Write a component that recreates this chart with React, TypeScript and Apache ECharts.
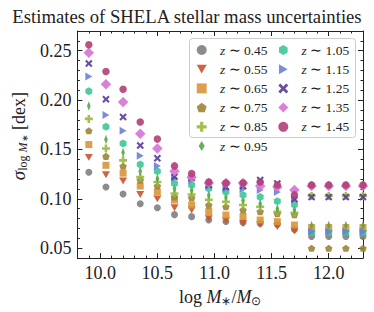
import React, { useEffect, useRef } from 'react';
import * as echarts from 'echarts';

// log stellar mass bin centres
const massBins = [9.9, 10.05, 10.2, 10.35, 10.5, 10.65, 10.8, 10.95, 11.1, 11.25, 11.4, 11.55, 11.7, 11.85, 12.0, 12.15, 12.3];

const zLabels = ['0.45', '0.55', '0.65', '0.75', '0.85', '0.95', '1.05', '1.15', '1.25', '1.35', '1.45'];

const sigmaZ045 = [0.127, 0.112, 0.105, 0.095, 0.091, 0.084, 0.082, 0.0785, 0.077, 0.076, 0.075, 0.074, 0.069, 0.062, 0.062, 0.062, 0.062];
const sigmaZ055 = [0.142, 0.1245, 0.118, 0.1045, 0.100, 0.091, 0.0887, 0.080, 0.078, 0.075, 0.074, 0.072, 0.0675, 0.065, 0.065, 0.065, 0.065];
const sigmaZ065 = [0.155, 0.134, 0.126, 0.113, 0.107, 0.0987, 0.0937, 0.087, 0.0836, 0.082, 0.0786, 0.0769, 0.0735, 0.071, 0.071, 0.071, 0.071];
const sigmaZ075 = [0.169, 0.143, 0.133, 0.119, 0.113, 0.102, 0.101, 0.0937, 0.092, 0.0886, 0.087, 0.085, 0.084, 0.050, 0.050, 0.050, 0.050];
const sigmaZ085 = [0.181, 0.151, 0.139, 0.122, 0.117, 0.1055, 0.1045, 0.099, 0.097, 0.0937, 0.092, 0.087, 0.086, 0.103, 0.103, 0.103, 0.103];
const sigmaZ095 = [0.194, 0.160, 0.147, 0.128, 0.1206, 0.1105, 0.109, 0.104, 0.102, 0.0985, 0.095, 0.090, 0.089, 0.073, 0.073, 0.073, 0.073];
const sigmaZ105 = [0.209, 0.173, 0.156, 0.1347, 0.128, 0.1156, 0.114, 0.1105, 0.107, 0.104, 0.102, 0.0977, 0.094, 0.066, 0.066, 0.066, 0.066];
const sigmaZ115 = [0.224, 0.185, 0.169, 0.1437, 0.1334, 0.1209, 0.119, 0.113, 0.1105, 0.110, 0.109, 0.107, 0.100, 0.067, 0.067, 0.067, 0.067];
const sigmaZ125 = [0.237, 0.201, 0.183, 0.154, 0.141, 0.1225, 0.121, 0.114, 0.112, 0.113, 0.119, 0.1155, 0.0997, 0.102, 0.102, 0.102, 0.102];
const sigmaZ135 = [0.248, 0.216, 0.198, 0.166, 0.151, 0.128, 0.122, 0.116, 0.116, 0.116, 0.113, 0.112, 0.109, 0.113, 0.113, 0.113, 0.113];
const sigmaZ145 = [0.256, 0.229, 0.211, 0.1778, 0.1605, 0.1334, 0.1256, 0.117, 0.116, 0.116, 0.117, 0.114, 0.104, 0.114, 0.114, 0.114, 0.114];

const allSigma = [sigmaZ045, sigmaZ055, sigmaZ065, sigmaZ075, sigmaZ085, sigmaZ095, sigmaZ105, sigmaZ115, sigmaZ125, sigmaZ135, sigmaZ145];

const xMajorTicks = [10.0, 10.5, 11.0, 11.5, 12.0];
const yMajorTicks = [0.05, 0.10, 0.15, 0.20, 0.25];

const colors = ['#7f7f7f', '#c9532f', '#d8963a', '#9c8538', '#9ab83a', '#55a74a', '#3ec697', '#6b7fdd', '#5a3b98', '#d473d2', '#b23f77'];

const symbols = [
  'circle',
  'path://M0,0L10,0L5,8.66Z',
  'rect',
  'path://M5,0L9.76,3.45L7.94,9.05L2.06,9.05L0.24,3.45Z',
  'path://M3.4,0H6.6V3.4H10V6.6H6.6V10H3.4V6.6H0V3.4H3.4Z',
  'path://M3,0L6,5L3,10L0,5Z',
  'path://M5,0L9.33,2.5L9.33,7.5L5,10L0.67,7.5L0.67,2.5Z',
  'path://M0,0L8.66,5L0,10Z',
  'path://M2,0L5,3L8,0L10,2L7,5L10,8L8,10L5,7L2,10L0,8L3,5L0,2Z',
  'diamond',
  'circle',
];
const symbolSizes: any[] = [7, 8, 7, 7.5, 8, [6, 9.5], 8, 8, 7.5, 10.5, 7.5];

const FONT = 'Liberation Serif';
const AX = '#222';

export default function App() {
  const ref = useRef<HTMLDivElement>(null);
  useEffect(() => {
    const chart = echarts.init(ref.current!, null, { renderer: 'svg' });
    const grid = { left: 74, top: 31, width: 289, height: 228 };
    const xMin = 9.8, xMax = 12.3, yMin = 0.04, yMax = 0.27;

    const majorX = (pos: string, labels: boolean, extra: any = {}) => ({
      type: 'value', position: pos, min: xMin, max: xMax,
      axisLine: { show: true, onZero: false, lineStyle: { color: AX, width: 1 } },
      axisTick: { show: true, inside: true, length: 5, customValues: xMajorTicks, lineStyle: { color: AX } },
      axisLabel: { show: labels, customValues: xMajorTicks, formatter: (v: number) => v.toFixed(1), fontFamily: FONT, fontSize: 18, color: '#222', margin: 6 },
      splitLine: { show: false },
      ...extra,
    });
    const minorX = (pos: string) => ({
      type: 'value', position: pos, min: xMin, max: xMax, interval: 0.1,
      axisLine: { show: false },
      axisTick: { show: true, inside: true, length: 2.5, lineStyle: { color: AX } },
      axisLabel: { show: false }, splitLine: { show: false },
    });
    const majorY = (pos: string, labels: boolean, extra: any = {}) => ({
      type: 'value', position: pos, min: yMin, max: yMax,
      axisLine: { show: true, onZero: false, lineStyle: { color: AX, width: 1 } },
      axisTick: { show: true, inside: true, length: 5, customValues: yMajorTicks, lineStyle: { color: AX } },
      axisLabel: { show: labels, customValues: yMajorTicks, formatter: (v: number) => v.toFixed(2), fontFamily: FONT, fontSize: 18, color: '#222', margin: 6 },
      splitLine: { show: false },
      ...extra,
    });
    const minorY = (pos: string) => ({
      type: 'value', position: pos, min: yMin, max: yMax, interval: 0.01,
      axisLine: { show: false },
      axisTick: { show: true, inside: true, length: 2.5, lineStyle: { color: AX } },
      axisLabel: { show: false }, splitLine: { show: false },
    });

    const series = zLabels.map((z, i) => ({
      type: 'scatter',
      name: z,
      xAxisIndex: 0,
      yAxisIndex: 0,
      symbol: symbols[i],
      symbolSize: symbolSizes[i],
      symbolKeepAspect: true,
      itemStyle: { color: colors[i], opacity: 0.9 },
      data: massBins.map((m, j) => [m, allSigma[i][j]]),
      z: 2 + i * 0.01,
    }));

    const legendCommon = {
      orient: 'vertical',
      top: 43,
      padding: 0,
      itemWidth: 10,
      itemHeight: 10,
      itemGap: 5.2,
      symbolKeepAspect: true,
      formatter: (name: string) => `{i|z} ∼ ${name}`,
      textStyle: {
        fontFamily: FONT, fontSize: 13.5, color: '#222', lineHeight: 10,
        padding: [0, 0, 0, 8.3],
        rich: { i: { fontFamily: FONT, fontSize: 13.5, fontStyle: 'italic', color: '#222', lineHeight: 10 } },
      },
      z: 6,
    };

    chart.setOption({
      animation: false,
      backgroundColor: '#fff',
      title: {
        text: 'Estimates of SHELA stellar mass uncertainties',
        left: 'center', top: 2,
        textStyle: { fontFamily: FONT, fontSize: 18.7, fontWeight: 'normal', color: '#222' },
      },
      grid,
      xAxis: [
        majorX('bottom', true, {
          name: '{n|log }{i|M}{s|∗}{n|/}{i|M}{s|⊙}',
          nameLocation: 'middle', nameGap: 24,
          nameTextStyle: {
            rich: {
              n: { fontFamily: FONT, fontSize: 18, color: '#222' },
              i: { fontFamily: FONT, fontSize: 18, fontStyle: 'italic', color: '#222' },
              s: { fontFamily: FONT, fontSize: 12, color: '#222', lineHeight: 12, padding: [8, 0, 0, 0] },
            },
          },
        }),
        minorX('bottom'),
        majorX('top', false),
        minorX('top'),
      ],
      yAxis: [
        majorY('left', true, {
          name: '{g|σ}{s|log }{si|M}{ss|∗}{n| [dex]}',
          nameLocation: 'middle', nameGap: 45,
          nameTextStyle: {
            padding: [0, 0, 0, 17],
            rich: {
              g: { fontFamily: FONT, fontSize: 19, fontStyle: 'italic', color: '#222' },
              s: { fontFamily: FONT, fontSize: 12, color: '#222', lineHeight: 12, padding: [8, 0, 0, 0] },
              si: { fontFamily: FONT, fontSize: 12, fontStyle: 'italic', color: '#222', lineHeight: 12, padding: [8, 0, 0, 0] },
              ss: { fontFamily: FONT, fontSize: 9, color: '#222', lineHeight: 9, padding: [12, 0, 0, 0] },
              n: { fontFamily: FONT, fontSize: 18, color: '#222' },
            },
          },
        }),
        minorY('left'),
        majorY('right', false),
        minorY('right'),
      ],
      legend: [
        { ...legendCommon, left: 196.7, data: zLabels.slice(0, 6) },
        { ...legendCommon, left: 278.3, data: zLabels.slice(6) },
      ],
      graphic: [
        {
          type: 'rect', z: 5,
          shape: { x: 189.5, y: 38.5, width: 166, height: 99, r: 3 },
          style: { fill: 'rgba(255,255,255,0.8)', stroke: '#cccccc', lineWidth: 1 },
        },
      ],
      series,
    });
    return () => chart.dispose();
  }, []);
  return <div ref={ref} style={{ position: 'absolute', left: 0, top: 0, width: 374, height: 312 }} />;
}
